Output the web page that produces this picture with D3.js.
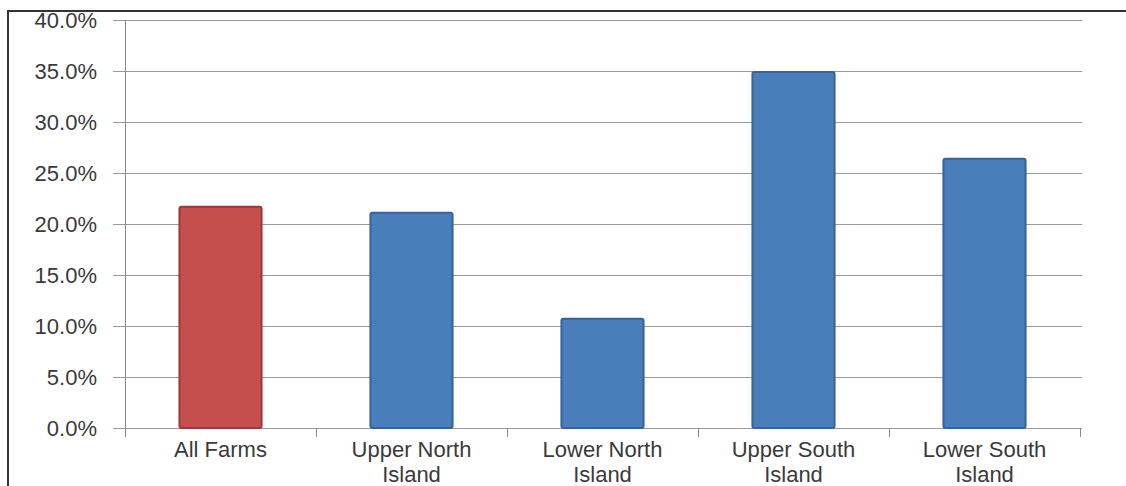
<!DOCTYPE html>
<html>
<head>
<meta charset="utf-8">
<script src="https://cdn.jsdelivr.net/npm/d3@7"></script>
<style>
  body { margin: 0; background: #fff; }
  text { font-family: "Liberation Sans", Arial, sans-serif; fill: #3a3a3a; }
</style>
</head>
<body>
<script>
// data
const categories = ["All Farms", "Upper North Island", "Lower North Island", "Upper South Island", "Lower South Island"];
const values = [0.217, 0.211, 0.107, 0.349, 0.264];
const yTicks = [0, 0.05, 0.10, 0.15, 0.20, 0.25, 0.30, 0.35, 0.40];

const W = 1126, H = 486;
let margin = {top: 20, right: 46, bottom: 58, left: 125};
let width = W - margin.left - margin.right;
let height = H - margin.top - margin.bottom;

const root = d3.select("body").append("svg")
  .attr("width", W)
  .attr("height", H);

// outer frame
root.append("rect")
  .attr("x", 8).attr("y", 11)
  .attr("width", W + 10).attr("height", H + 10)
  .attr("fill", "none")
  .attr("stroke", "#333")
  .attr("stroke-width", 2);

const svg = root.append("g")
  .attr("transform", `translate(${margin.left}, ${margin.top})`);

let x = d3.scaleBand()
  .domain(categories)
  .range([0, width])
  .paddingInner(0.57)
  .paddingOuter(0.285);

let y = d3.scaleLinear()
  .domain([0, 0.40])
  .range([height, 0]);

// gridlines
svg.append("g")
  .selectAll("line")
  .data(yTicks)
  .join("line")
  .attr("x1", -12).attr("x2", width + 2)
  .attr("y1", d => Math.round(y(d)) + 0.5)
  .attr("y2", d => Math.round(y(d)) + 0.5)
  .attr("stroke", "#9a9a9a")
  .attr("stroke-width", 1);

// y axis
const axeY = d3.axisLeft(y)
  .tickValues(yTicks)
  .tickFormat(d3.format(".1%"))
  .tickSize(0)
  .tickPadding(28);

const groupY = svg.append("g").call(axeY);
groupY.select(".domain").remove();
groupY.selectAll("text")
  .style("font-size", "22px")
  .style("font-family", "Liberation Sans, Arial, sans-serif")
  .attr("fill", "#3a3a3a");

svg.append("line")
  .attr("x1", 0.5).attr("x2", 0.5)
  .attr("y1", 0).attr("y2", height + 9)
  .attr("stroke", "#8a8a8a");

// category boundary ticks
const step = x.step();
svg.append("g")
  .selectAll("line")
  .data(d3.range(categories.length + 1))
  .join("line")
  .attr("x1", i => Math.round(i * step) + 0.5)
  .attr("x2", i => Math.round(i * step) + 0.5)
  .attr("y1", height)
  .attr("y2", height + 9)
  .attr("stroke", "#8a8a8a");

// bars
svg.selectAll(".bar")
  .data(categories)
  .join("rect")
  .attr("class", "bar")
  .attr("x", d => x(d))
  .attr("y", (d, i) => y(values[i]))
  .attr("width", x.bandwidth())
  .attr("height", (d, i) => height - y(values[i]))
  .attr("rx", 2)
  .attr("fill", (d, i) => i === 0 ? "#c54f4d" : "#4a7ebb")
  .attr("stroke", (d, i) => i === 0 ? "#973a38" : "#37629a")
  .attr("stroke-width", 2);

// category labels
const labels = svg.append("g")
  .selectAll("text")
  .data(categories)
  .join("text")
  .attr("text-anchor", "middle")
  .attr("x", d => x(d) + x.bandwidth() / 2)
  .attr("y", height + 29)
  .style("font-size", "22px");

labels.each(function(d) {
  const words = d.split(" ");
  const t = d3.select(this);
  if (words.length > 2) {
    t.append("tspan").attr("x", x(d) + x.bandwidth() / 2).text(words.slice(0, 2).join(" "));
    t.append("tspan").attr("x", x(d) + x.bandwidth() / 2).attr("dy", 25).text(words.slice(2).join(" "));
  } else {
    t.text(d);
  }
});
</script>
</body>
</html>
